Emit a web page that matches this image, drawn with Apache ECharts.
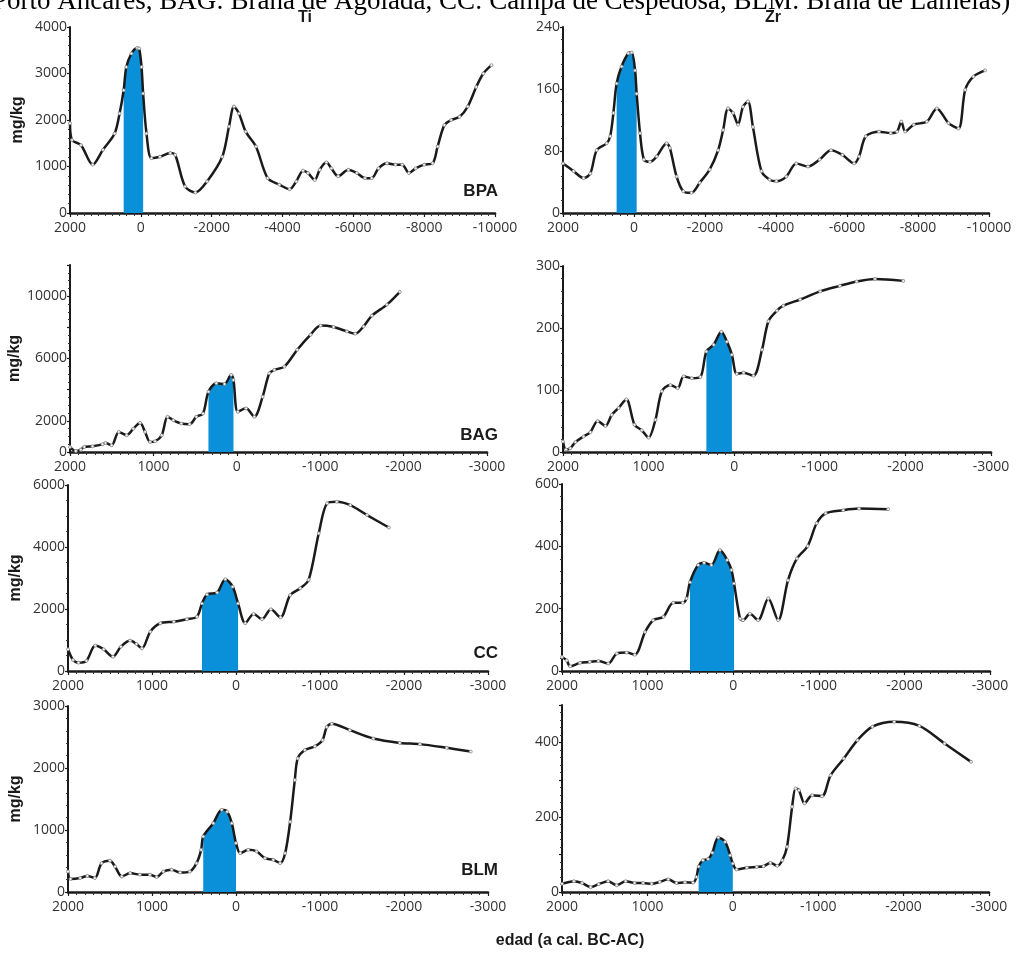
<!DOCTYPE html>
<html>
<head>
<meta charset="utf-8">
<script src="https://cdn.jsdelivr.net/npm/echarts@6/dist/echarts.min.js"></script>
<style>
  html, body { margin: 0; padding: 0; background: #fff; }
  #main { width: 1020px; height: 953px; }
</style>
</head>
<body>
<div id="main"></div>
<script>
// ---------------- 数据 (edad, mg/kg) ----------------
// BPA Ti
const tiBpaAge = [2000, 1943, 1690, 1360, 1070, 740, 600, 485, 410, 265, 105, 50, -20, -65, -160, -300, -540, -830, -970, -1250,
    -1540, -1870, -2300, -2490, -2630, -2770, -2960, -3250, -3580, -3910, -4200, -4390, -4580, -4720, -4910, -5050, -5240, -5380, -5570, -5860,
    -6100, -6330, -6520, -6710, -6950, -7190, -7380, -7570, -7760, -8000, -8240, -8380, -8570, -8760, -9000, -9230, -9470, -9670, -9900];
const tiBpaVal = [1930, 1570, 1460, 1040, 1360, 1710, 2140, 2640, 3140, 3430, 3550, 3540, 3140, 2570, 1710, 1180, 1210, 1290, 1250, 570,
    440, 680, 1210, 1860, 2290, 2140, 1750, 1430, 750, 610, 510, 680, 910, 860, 710, 930, 1090, 960, 790, 930,
    860, 750, 750, 960, 1070, 1040, 1040, 860, 960, 1040, 1070, 1430, 1890, 2000, 2070, 2290, 2710, 3000, 3180];
// BPA Zr
const zrBpaAge = [2000, 1700, 1420, 1230, 1050, 770, 670, 580, 490, 350, 160, 65, -30, -75, -170, -280, -450, -640, -920, -1010,
    -1200, -1390, -1620, -1850, -2130, -2370, -2510, -2650, -2790, -2930, -3070, -3210, -3350, -3590, -3820, -4010, -4290, -4570, -4900, -5230,
    -5550, -5870, -6200, -6340, -6530, -6900, -7230, -7410, -7530, -7640, -7880, -8250, -8530, -8860, -9140, -9330, -9560, -9890];
const zrBpaVal = [64, 54, 45, 51, 81, 90, 99, 129, 167, 189, 206, 207, 184, 154, 103, 69, 66, 73, 90, 84,
    47, 28, 26, 39, 56, 81, 107, 135, 129, 114, 137, 144, 111, 54, 43, 41, 47, 64, 60, 69,
    81, 75, 64, 73, 99, 105, 103, 105, 118, 105, 114, 118, 135, 116, 109, 159, 176, 184];
// BAG Ti
const tiBagAge = [2000, 1930, 1870, 1830, 1730, 1610, 1575, 1500, 1415, 1320, 1240, 1160, 1100, 1040, 980, 900, 830, 760, 665, 565,
    485, 405, 340, 245, 147, 67, 40, -12, -110, -210, -310, -390, -450, -570, -725, -885, -1005, -1160, -1320, -1420,
    -1520, -1620, -1800, -1955];
const tiBagVal = [320, 65, 150, 320, 365, 490, 580, 430, 1290, 1075, 1500, 1870, 1290, 645, 690, 1075, 2260, 2040, 1830, 1785,
    2260, 2470, 3870, 4410, 4365, 4950, 4620, 2580, 2800, 2260, 3550, 5050, 5270, 5480, 6560, 7530, 8110, 8020, 7740, 7590,
    8060, 8750, 9460, 10280];
// BAG Zr
const zrBagAge = [2000, 1965, 1915, 1855, 1760, 1680, 1595, 1505, 1430, 1350, 1260, 1165, 1080, 1000, 920, 845, 745, 660, 590, 495,
    395, 325, 240, 150, 85, 27, -30, -110, -225, -325, -400, -500, -575, -770, -1005, -1235, -1430, -1645, -1975];
const zrBagVal = [17, 4, 6, 16, 25, 32, 50, 42, 60, 71, 85, 44, 35, 23, 52, 98, 108, 103, 122, 119,
    121, 162, 173, 194, 178, 157, 126, 128, 123, 165, 211, 228, 236, 246, 259, 268, 275, 279, 276];
// CC Ti
const tiCcAge = [2000, 1940, 1875, 1780, 1675, 1575, 1465, 1370, 1260, 1185, 1120, 1020, 900, 740, 585, 465, 405, 345, 225, 127,
    40, -25, -110, -210, -310, -415, -530, -645, -765, -865, -985, -1085, -1200, -1360, -1560, -1820];
const tiCcVal = [700, 355, 270, 330, 820, 700, 460, 785, 980, 870, 730, 1270, 1540, 1590, 1670, 1750, 2180, 2470, 2530, 2960,
    2720, 2180, 1540, 1840, 1670, 1990, 1730, 2450, 2670, 2940, 4440, 5410, 5460, 5350, 5030, 4630];
// CC Zr
const zrCcAge = [2000, 1945, 1905, 1790, 1675, 1575, 1460, 1360, 1245, 1150, 1030, 935, 815, 700, 590, 545, 505, 410, 340, 255,
    155, 70, 20, -10, -80, -115, -195, -290, -410, -525, -640, -745, -870, -975, -1080, -1285, -1470, -1810];
const zrCcVal = [45, 34, 15, 26, 29, 32, 24, 56, 59, 52, 125, 163, 174, 219, 219, 233, 285, 340, 347, 340,
    388, 356, 324, 281, 168, 163, 184, 163, 233, 163, 291, 361, 401, 474, 506, 516, 521, 519];
// BLM Ti
const tiBlmAge = [2000, 1970, 1855, 1770, 1680, 1600, 1500, 1440, 1360, 1260, 1145, 1025, 945, 865, 765, 665, 550, 470, 415, 390,
    270, 170, 105, 50, 0, -50, -145, -245, -345, -445, -525, -585, -645, -700, -735, -820, -940, -1030, -1080, -1140,
    -1355, -1635, -1950, -2190, -2510, -2795];
const tiBlmVal = [330, 210, 225, 260, 225, 465, 505, 410, 250, 305, 280, 280, 240, 330, 360, 315, 330, 465, 680, 895,
    1110, 1325, 1295, 1110, 790, 625, 680, 655, 545, 520, 465, 625, 1135, 1805, 2155, 2290, 2350, 2450, 2660, 2715,
    2610, 2475, 2405, 2385, 2325, 2265];
// BLM Zr
const zrBlmAge = [2000, 1860, 1765, 1665, 1570, 1460, 1360, 1255, 1150, 1050, 950, 855, 755, 660, 560, 465, 425, 400, 350, 290,
    240, 170, 90, 30, 0, -45, -165, -280, -360, -440, -520, -580, -635, -695, -735, -775, -840, -930, -1045, -1145,
    -1300, -1460, -1635, -1890, -2185, -2480, -2790];
const zrBlmVal = [22, 29, 24, 13, 21, 29, 18, 29, 24, 24, 22, 27, 34, 24, 26, 25, 40, 68, 85, 88,
    105, 146, 134, 98, 76, 60, 65, 67, 69, 78, 70, 85, 121, 228, 277, 272, 237, 259, 256, 312,
    357, 406, 442, 455, 444, 397, 348];

// 蓝色区间 (edad desde, hasta)
const tiBpaBlue = [485, -65];
const zrBpaBlue = [490, -75];
const tiBagBlue = [340, 40];
const zrBagBlue = [325, 27];
const tiCcBlue = [405, -25];
const zrCcBlue = [505, -10];
const tiBlmBlue = [390, 0];
const zrBlmBlue = [400, 0];

// 轴标签
const tiBagLabels = [0, 2000, 6000, 10000];
const zrBlmLabels = [0, 200, 400];

const siteNames = ['BPA', 'BAG', 'CC', 'BLM'];
const columnTitles = ['Ti', 'Zr'];
const xAxisTitle = 'edad (a cal. BC-AC)';
const captionText = 'Porto Ancares, BAG: Braña de Agolada, CC: Campa de Cespedosa, BLM: Braña de Lamelas)';

// ---------------- 面板配置 ----------------
const panels = [
    { age: tiBpaAge, val: tiBpaVal, blue: tiBpaBlue, pos: [70, 27, 425, 186], xMin: -10000, xInt: 2000, yMax: 4000, yInt: 1000, left: true },
    { age: zrBpaAge, val: zrBpaVal, blue: zrBpaBlue, pos: [563, 27, 426, 186], xMin: -10000, xInt: 2000, yMax: 240, yInt: 80 },
    { age: tiBagAge, val: tiBagVal, blue: tiBagBlue, pos: [70, 265, 417, 187], xMin: -3000, xInt: 1000, yMax: 12000, yInt: 2000, labels: tiBagLabels, left: true },
    { age: zrBagAge, val: zrBagVal, blue: zrBagBlue, pos: [563, 266, 428, 186], xMin: -3000, xInt: 1000, yMax: 300, yInt: 100 },
    { age: tiCcAge, val: tiCcVal, blue: tiCcBlue, pos: [68, 485, 420, 186], xMin: -3000, xInt: 1000, yMax: 6000, yInt: 2000, left: true },
    { age: zrCcAge, val: zrCcVal, blue: zrCcBlue, pos: [562, 484, 428, 187], xMin: -3000, xInt: 1000, yMax: 600, yInt: 200 },
    { age: tiBlmAge, val: tiBlmVal, blue: tiBlmBlue, pos: [68, 706, 420, 186], xMin: -3000, xInt: 1000, yMax: 3000, yInt: 1000, left: true },
    { age: zrBlmAge, val: zrBlmVal, blue: zrBlmBlue, pos: [562, 705, 427, 187], xMin: -3000, xInt: 1000, yMax: 500, yInt: 100, labels: zrBlmLabels }
];

const labelFont = '"Open Sans", "Liberation Sans", sans-serif';
const boldFont = '"Liberation Sans", Arial, sans-serif';

var grids = [], xAxes = [], yAxes = [], series = [];

panels.forEach(function (p, i) {
    const pts = p.age.map((a, k) => [a, p.val[k]]);
    const bluePts = pts.filter(d => d[0] <= p.blue[0] && d[0] >= p.blue[1]);

    grids.push({ left: p.pos[0], top: p.pos[1], width: p.pos[2], height: p.pos[3] });

    xAxes.push({
        type: 'value',
        gridIndex: i,
        min: p.xMin,
        max: 2000,
        interval: p.xInt,
        inverse: true,
        splitLine: { show: false },
        axisLine: { onZero: false, lineStyle: { color: '#1a1a1a', width: 2.5 } },
        axisTick: { show: true, length: 4, lineStyle: { color: '#1a1a1a', width: 1.2 } },
        minorTick: { show: true, splitNumber: 10, length: 3, lineStyle: { color: '#333', width: 1 } },
        axisLabel: { color: '#333', fontFamily: labelFont, fontSize: 14, margin: 8,
            showMinLabel: true, showMaxLabel: true,
            formatter: function (v) { return String(v); } }
    });

    const labels = p.labels;
    yAxes.push({
        type: 'value',
        gridIndex: i,
        min: 0,
        max: p.yMax,
        interval: p.yInt,
        name: p.left ? 'mg/kg' : '',
        nameLocation: 'middle',
        nameRotate: 90,
        nameGap: 44,
        nameTextStyle: { fontFamily: boldFont, fontWeight: 'bold', fontSize: 16, color: '#1a1a1a' },
        splitLine: { show: false },
        axisLine: { show: true, onZero: false, lineStyle: { color: '#1a1a1a', width: 2 } },
        axisTick: { show: true, length: 3, lineStyle: { color: '#1a1a1a', width: 1.2 } },
        minorTick: { show: true, splitNumber: p.yInt >= 2000 ? 4 : 5, length: 2, lineStyle: { color: '#333', width: 1 } },
        axisLabel: {
            color: '#333', fontFamily: labelFont, fontSize: 14, margin: 3,
            formatter: function (v) {
                if (labels) return labels.indexOf(v) >= 0 ? String(v) : '';
                return String(v);
            }
        }
    });

    // 蓝色填充
    series.push({
        type: 'line',
        xAxisIndex: i,
        yAxisIndex: i,
        data: bluePts,
        smooth: 0.3,
        symbol: 'none',
        lineStyle: { width: 0 },
        areaStyle: { color: '#0a8fd9', opacity: 1 },
        silent: true,
        z: 1
    });
    // 曲线
    series.push({
        type: 'line',
        xAxisIndex: i,
        yAxisIndex: i,
        data: pts,
        smooth: 0.3,
        symbol: 'circle',
        symbolSize: 3,
        showAllSymbol: true,
        itemStyle: { color: '#f4f4f4', borderColor: '#888', borderWidth: 0.8 },
        lineStyle: { color: '#1a1a1a', width: 2.5 },
        z: 3
    });
});

// 文字
var graphics = [
    { type: 'text', x: -8, y: 15, silent: true,
      style: { text: captionText, font: '27px "Liberation Serif", "Times New Roman", serif', fill: '#000', verticalAlign: 'bottom' } },
    { type: 'text', x: 305, y: 18, style: { text: columnTitles[0], font: 'bold 16px ' + boldFont, fill: '#1a1a1a', align: 'center', verticalAlign: 'middle' } },
    { type: 'text', x: 773, y: 18, style: { text: columnTitles[1], font: 'bold 16px ' + boldFont, fill: '#1a1a1a', align: 'center', verticalAlign: 'middle' } },
    { type: 'text', x: 570, y: 941, style: { text: xAxisTitle, font: 'bold 16px ' + boldFont, fill: '#1a1a1a', align: 'center', verticalAlign: 'middle' } }
];
const sitePos = [[498, 191], [498, 435], [498, 653], [498, 870]];
siteNames.forEach(function (s, k) {
    graphics.push({ type: 'text', x: sitePos[k][0], y: sitePos[k][1],
        style: { text: s, font: 'bold 17px ' + boldFont, fill: '#1a1a1a', align: 'right', verticalAlign: 'middle' } });
});

var chart = echarts.init(document.getElementById('main'));
chart.setOption({
    animation: false,
    backgroundColor: '#fff',
    grid: grids,
    xAxis: xAxes,
    yAxis: yAxes,
    series: series,
    graphic: graphics
});
</script>
</body>
</html>
